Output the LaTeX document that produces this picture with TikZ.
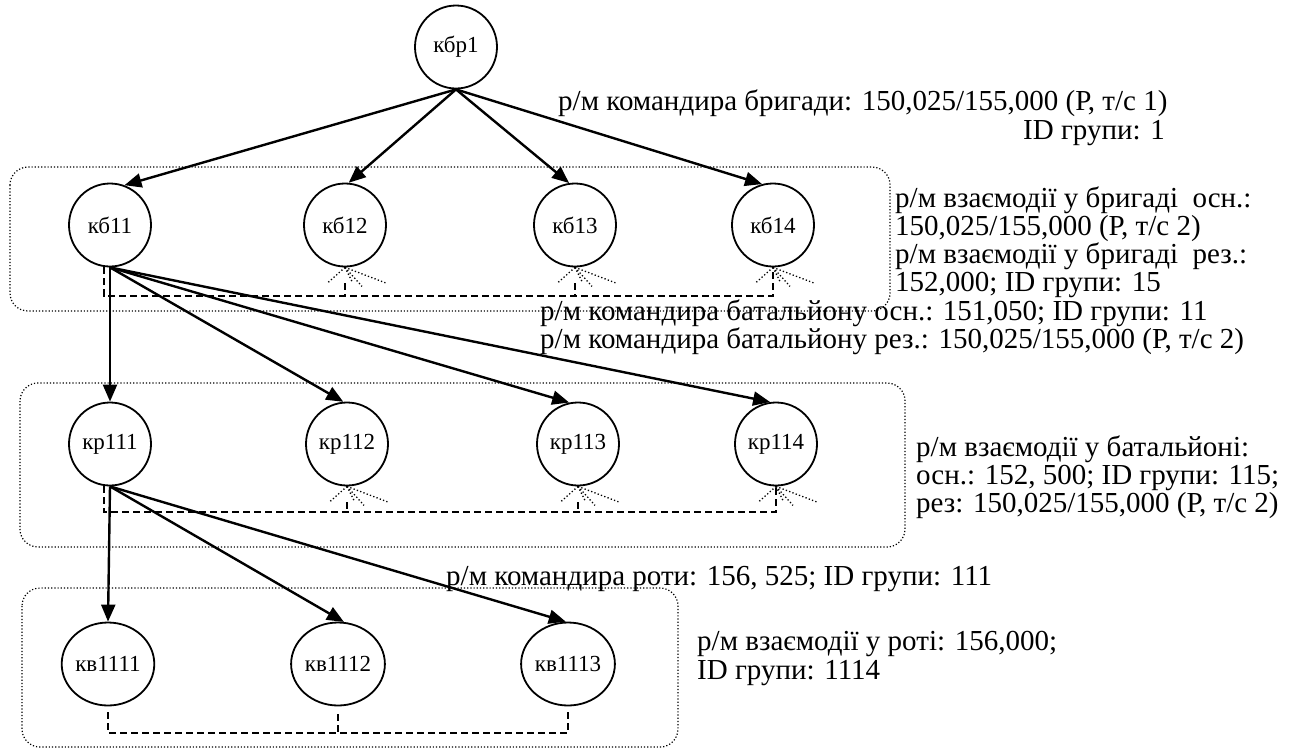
\documentclass[tikz,border=0pt]{standalone}
\usepackage{fontspec}
\setmainfont{Liberation Serif}
\usetikzlibrary{shapes.geometric,arrows.meta}
\newcommand\fanfrom[1]{%
  \draw[fan] (#1.south) -- ++(-18,16);
  \draw[fan] (#1.south) -- ++(7,14);
  \draw[fan] (#1.south) -- ++(17,19);
  \draw[fan] (#1.south) -- ++(42,16);}
\begin{document}
\begin{tikzpicture}[x=1pt,y=-1pt,
  unit/.style={draw,ellipse,line width=1.8pt,minimum width=82pt,minimum height=83pt,inner sep=0pt,font=\fontsize{23}{23}\selectfont},
  wunit/.style={unit,minimum width=90pt},
  cmd/.style={line width=2.4pt,-{Triangle[length=17pt,width=14pt]}},
  grp/.style={draw,dotted,line width=1.2pt,rounded corners=18pt},
  bus/.style={line width=1.5pt,dash pattern=on 7pt off 4pt},
  fan/.style={line width=1.3pt,dash pattern=on 1.3pt off 2.2pt},
  lbl/.style={inner sep=0pt,font=\fontsize{29}{29}\selectfont,anchor=base west},
  rlbl/.style={lbl,anchor=base east}]
\useasboundingbox (0,0) rectangle (1290,753);
% group frames
\draw[grp] (10,167) rectangle (890,311);
\draw[grp] (20,383) rectangle (905,547);
\draw[grp] (22,588) rectangle (678,747);
% nodes
\node[unit] (kbr1) at (456,47) {кбр1};
\node[unit] (kb11) at (110,225) {кб11};
\node[unit] (kb12) at (345,225) {кб12};
\node[unit] (kb13) at (575,225) {кб13};
\node[unit] (kb14) at (773,225) {кб14};
\node[unit] (kr111) at (110,444) {кр111};
\node[unit] (kr112) at (347,444) {кр112};
\node[unit] (kr113) at (578,444) {кр113};
\node[unit] (kr114) at (776,444) {кр114};
\node[wunit] (kv1111) at (108,664) {кв1111};
\node[wunit] (kv1112) at (338,664) {кв1112};
\node[wunit] (kv1113) at (568,664) {кв1113};
% command links
\draw[cmd] (kbr1.south) -- (kb11.70);
\draw[cmd] (kbr1.south) -- (kb12.85);
\draw[cmd] (kbr1.south) -- (kb13.98);
\draw[cmd] (kbr1.south) -- (kb14.105);
\draw[cmd] (kb11.south) -- (kr111.north);
\draw[cmd] (kb11.south) -- (kr112.95);
\draw[cmd] (kb11.south) -- (kr113.102);
\draw[cmd] (kb11.south) -- (kr114.98);
\draw[cmd] (kr111.south) -- (kv1111.north);
\draw[cmd] (kr111.south) -- (kv1112.82);
\draw[cmd] (kr111.south) -- (kv1113.93);
% interaction buses
\coordinate (bus1) at (0,296);
\coordinate (bus2) at (0,512);
\coordinate (bus3) at (0,733);
\draw[bus] ([xshift=-6pt]kb11.south) -- ([xshift=-6pt]kb11.south |- bus1) -- (kb14.south |- bus1) -- (kb14.south);
\draw[bus] ([yshift=-16pt]kb12.south) -- (kb12.south |- bus1);
\draw[bus] ([yshift=-16pt]kb13.south) -- (kb13.south |- bus1);
\draw[bus] ([xshift=-6pt]kr111.south) -- ([xshift=-6pt]kr111.south |- bus2) -- (kr114.south |- bus2) -- (kr114.south);
\draw[bus] ([yshift=-16pt]kr112.south) -- (kr112.south |- bus2);
\draw[bus] ([yshift=-16pt]kr113.south) -- (kr113.south |- bus2);
\draw[bus] ([yshift=-6pt]kv1111.south) -- (kv1111.south |- bus3) -- (kv1113.south |- bus3) -- ([yshift=-6pt]kv1113.south);
\draw[bus] ([yshift=-8pt]kv1112.south) -- (kv1112.south |- bus3);
% fans
\fanfrom{kb12}\fanfrom{kb13}\fanfrom{kb14}
\fanfrom{kr112}\fanfrom{kr113}\fanfrom{kr114}
% labels
\node[lbl] (t1) at (558,110) {р/м командира бригади: 150,025/155,000 (Р, т/с 1)};
\node[rlbl] (t2) at (1165,139) {ID групи: 1};
\node[lbl] (t3) at (895,207) {р/м взаємодії у бригаді\ \ осн.:};
\node[lbl] (t4) at (895,235) {150,025/155,000 (Р, т/с 2)};
\node[lbl] (t5) at (895,263) {р/м взаємодії у бригаді\ \ рез.:};
\node[lbl] (t6) at (895,291) {152,000; ID групи: 15};
\node[lbl] (t7) at (540,320) {р/м командира батальйону осн.: 151,050; ID групи: 11};
\node[lbl] (t8) at (540,348) {р/м командира батальйону рез.: 150,025/155,000 (Р, т/с 2)};
\node[lbl] (t9) at (916,456) {р/м взаємодії у батальйоні:};
\node[lbl] (t10) at (916,484) {осн.: 152, 500; ID групи: 115;};
\node[lbl] (t11) at (916,512) {рез: 150,025/155,000 (Р, т/с 2)};
\node[lbl] (t12) at (446,585) {р/м командира роти: 156, 525; ID групи: 111};
\node[lbl] (t13) at (697,650) {р/м взаємодії у роті: 156,000;};
\node[lbl] (t14) at (697,679) {ID групи: 1114};
\end{tikzpicture}
\end{document}
